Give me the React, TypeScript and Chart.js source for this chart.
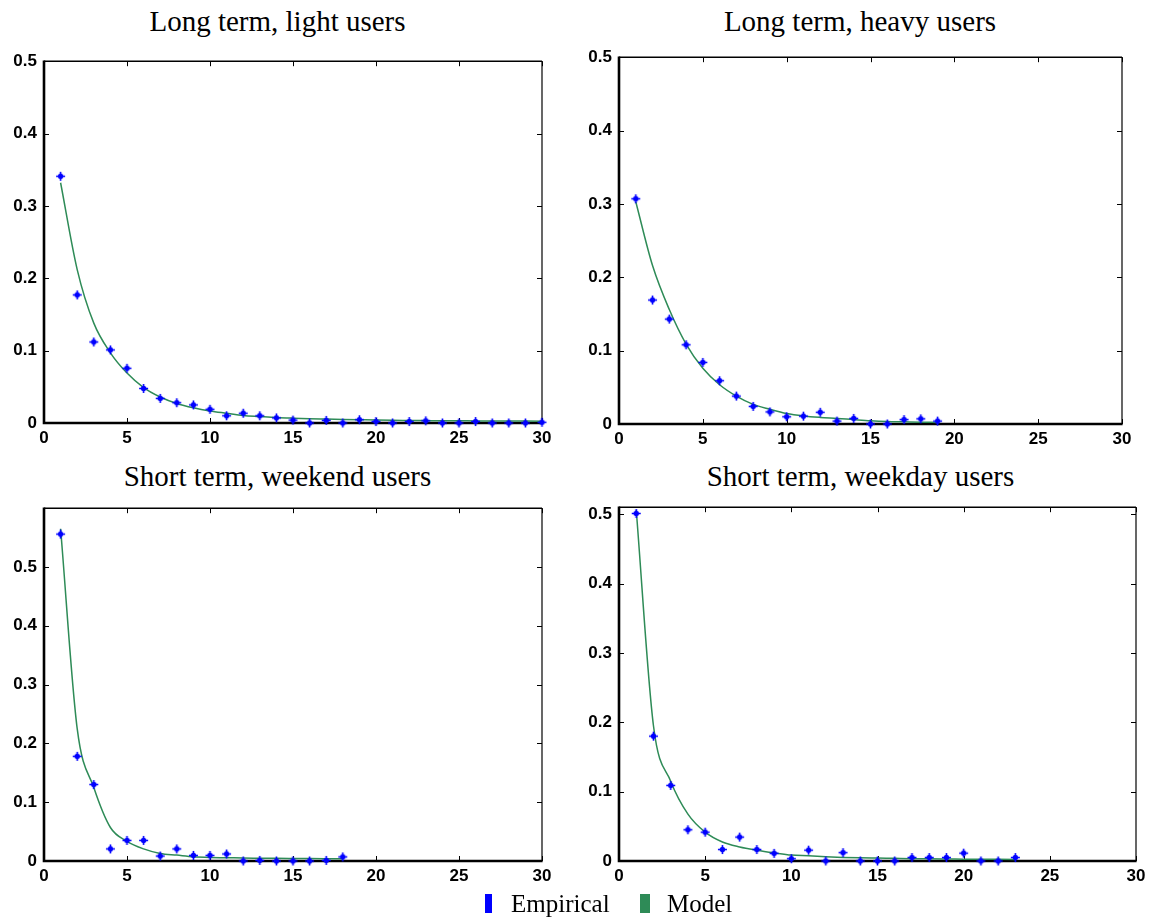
import React, { useEffect, useRef } from "react";
import { Chart, registerables } from "chart.js";

Chart.register(...registerables);

// Shared axis ticks
const xTickValues = [0, 5, 10, 15, 20, 25, 30];
const yTickValues = [0, 0.1, 0.2, 0.3, 0.4, 0.5];
const yTickLabels = ["0", "0.1", "0.2", "0.3", "0.4", "0.5"];

// Long term, light users (x = 1..30)
const lightEmpirical = [
  0.341, 0.177, 0.112, 0.101, 0.0756, 0.0477, 0.034, 0.028, 0.025, 0.019,
  0.01, 0.0135, 0.01, 0.007, 0.004, 0.0, 0.0036, 0.0, 0.0045, 0.002,
  0.0, 0.002, 0.003, 0.0, 0.0, 0.002, 0.0, 0.0, 0.0, 0.001,
];
const lightModel = [
  0.332, 0.212, 0.138, 0.097, 0.069, 0.049, 0.036, 0.027, 0.021, 0.0166,
  0.0135, 0.0105, 0.009, 0.0076, 0.0067, 0.006, 0.0055, 0.005, 0.0045, 0.004,
  0.0037, 0.0035, 0.0033, 0.0031, 0.003, 0.0029, 0.0028, 0.0027, 0.0026, 0.0025,
];

// Long term, heavy users (x = 1..19)
const heavyEmpirical = [
  0.307, 0.169, 0.143, 0.108, 0.084, 0.059, 0.038, 0.024, 0.0165, 0.0098,
  0.0107, 0.016, 0.004, 0.0076, 0.0, 0.0, 0.006, 0.007, 0.004,
];
const heavyModel = [
  0.303, 0.216, 0.156, 0.109, 0.076, 0.0535, 0.038, 0.0267, 0.02, 0.0143,
  0.011, 0.009, 0.0076, 0.006, 0.0045, 0.0035, 0.003, 0.0025, 0.0022,
];

// Short term, weekend users (x = 1..18)
const weekendEmpirical = [
  0.556, 0.178, 0.13, 0.0206, 0.035, 0.035, 0.0084, 0.0206, 0.0095, 0.0095,
  0.012, 0.0, 0.001, 0.0, 0.0, 0.0, 0.001, 0.007,
];
const weekendModel = [
  0.565, 0.225, 0.125, 0.057, 0.0334, 0.0206, 0.0128, 0.01, 0.0072, 0.006,
  0.0056, 0.005, 0.0048, 0.0045, 0.0043, 0.0041, 0.004, 0.004,
];

// Short term, weekday users (x = 1..23)
const weekdayEmpirical = [
  0.501, 0.18, 0.109, 0.045, 0.0416, 0.0165, 0.0345, 0.0165, 0.011, 0.0033,
  0.0156, 0.0, 0.012, 0.0, 0.0, 0.0, 0.005, 0.005, 0.005, 0.0113,
  0.0, 0.0, 0.005,
];
const weekdayModel = [
  0.506, 0.195, 0.115, 0.0676, 0.0416, 0.0274, 0.0203, 0.0156, 0.0118, 0.0085,
  0.0075, 0.0062, 0.0052, 0.0046, 0.0042, 0.0038, 0.0034, 0.0031, 0.0029, 0.0027,
  0.0025, 0.0024, 0.0023,
];

const EMPIRICAL_COLOR = "#0000ff";
const MODEL_COLOR = "#2e8b57";
const TICK_FONT = { family: "'Liberation Sans', Arial, sans-serif", size: 17, weight: "bold" as const };
const SERIF = "'Liberation Serif', 'Times New Roman', serif";

type Rect = { left: number; top: number; right: number; bottom: number };
type Panel = {
  title: string;
  empirical: number[];
  model: number[];
  yMax: number;
  plot: Rect;
  titleX: number;
  titleTop: number;
};

const panels: Panel[] = [
  { title: "Long term, light users", empirical: lightEmpirical, model: lightModel, yMax: 0.5,
    plot: { left: 44, top: 56, right: 542, bottom: 423 }, titleX: 277.5, titleTop: 7 },
  { title: "Long term, heavy users", empirical: heavyEmpirical, model: heavyModel, yMax: 0.5,
    plot: { left: 619, top: 52, right: 1122, bottom: 424 }, titleX: 860, titleTop: 7 },
  { title: "Short term, weekend users", empirical: weekendEmpirical, model: weekendModel, yMax: 0.6,
    plot: { left: 44, top: 503, right: 542, bottom: 861 }, titleX: 277.5, titleTop: 462 },
  { title: "Short term, weekday users", empirical: weekdayEmpirical, model: weekdayModel, yMax: 0.51,
    plot: { left: 619, top: 502, right: 1136, bottom: 861 }, titleX: 860.5, titleTop: 462 },
];

const Y_AXIS_W = 56;
const X_AXIS_H = 34;
const PAD_TOP = 12;
const PAD_RIGHT = 16;

// "+" marker with a filled dot in the middle
function makeMarker(): HTMLCanvasElement {
  const c = document.createElement("canvas");
  c.width = 11;
  c.height = 11;
  const g = c.getContext("2d")!;
  g.strokeStyle = EMPIRICAL_COLOR;
  g.fillStyle = EMPIRICAL_COLOR;
  g.lineWidth = 1.6;
  g.beginPath();
  g.moveTo(1, 5.5);
  g.lineTo(10, 5.5);
  g.moveTo(5.5, 1);
  g.lineTo(5.5, 10);
  g.stroke();
  g.beginPath();
  g.arc(5.5, 5.5, 2.7, 0, Math.PI * 2);
  g.fill();
  return c;
}

// Box frame with inward tick marks on all four sides
const framePlugin = {
  id: "matlabFrame",
  beforeDatasetsDraw(chart: any) {
    const { ctx, chartArea } = chart;
    const { left, top, right, bottom } = chartArea;
    const xs = chart.scales.x;
    const ys = chart.scales.y;
    ctx.save();
    ctx.strokeStyle = "#000";
    ctx.lineWidth = 1;
    const len = 5;
    ctx.beginPath();
    for (const v of xTickValues) {
      const px = Math.round(xs.getPixelForValue(v)) + 0.5;
      ctx.moveTo(px, bottom);
      ctx.lineTo(px, bottom - len);
      ctx.moveTo(px, top);
      ctx.lineTo(px, top + len);
    }
    for (const v of yTickValues) {
      const py = Math.round(ys.getPixelForValue(v)) + 0.5;
      ctx.moveTo(left, py);
      ctx.lineTo(left + len, py);
      ctx.moveTo(right, py);
      ctx.lineTo(right - len, py);
    }
    ctx.stroke();
    // top and right edges (thin)
    ctx.lineWidth = 1.5;
    ctx.beginPath();
    ctx.moveTo(left, top);
    ctx.lineTo(right, top);
    ctx.stroke();
    ctx.lineWidth = 1.2;
    ctx.beginPath();
    ctx.moveTo(right, top);
    ctx.lineTo(right, bottom);
    ctx.stroke();
    // bottom and left axes (heavy)
    ctx.lineWidth = 2.6;
    ctx.beginPath();
    ctx.moveTo(left, top - 0.7);
    ctx.lineTo(left, bottom);
    ctx.lineTo(right + 0.6, bottom);
    ctx.stroke();
    ctx.restore();
  },
};

function PanelChart({ panel, marker }: { panel: Panel; marker: HTMLCanvasElement | null }) {
  const ref = useRef<HTMLCanvasElement>(null);
  const { plot } = panel;
  const width = plot.right - plot.left + Y_AXIS_W + PAD_RIGHT;
  const height = plot.bottom - plot.top + PAD_TOP + X_AXIS_H;

  useEffect(() => {
    if (!ref.current) return;
    const pointStyle = marker ?? "crossRot";
    const chart = new Chart(ref.current, {
      type: "line",
      data: {
        datasets: [
          {
            label: "Empirical",
            data: panel.empirical.map((y, i) => ({ x: i + 1, y })),
            showLine: false,
            pointStyle: pointStyle as any,
            pointRadius: 5,
            pointBackgroundColor: EMPIRICAL_COLOR,
            pointBorderColor: EMPIRICAL_COLOR,
            order: 0,
            clip: false as any,
          },
          {
            label: "Model",
            data: panel.model.map((y, i) => ({ x: i + 1, y })),
            borderColor: MODEL_COLOR,
            borderWidth: 1.5,
            pointRadius: 0,
            cubicInterpolationMode: "monotone",
            fill: false,
            order: 1,
            clip: false as any,
          },
        ],
      },
      options: {
        responsive: false,
        animation: false,
        events: [],
        layout: { padding: { top: PAD_TOP, right: PAD_RIGHT, left: 0, bottom: 0 } },
        plugins: { legend: { display: false }, tooltip: { enabled: false }, title: { display: false } },
        scales: {
          x: {
            type: "linear",
            min: 0,
            max: 30,
            grid: { display: false, drawTicks: false },
            border: { display: false },
            afterBuildTicks: (s: any) => {
              s.ticks = xTickValues.map((value) => ({ value }));
            },
            afterFit: (s: any) => {
              s.height = X_AXIS_H;
            },
            ticks: {
              color: "#000",
              font: TICK_FONT,
              padding: 5,
              maxRotation: 0,
              autoSkip: false,
              callback: (v: any) => String(v),
            },
          },
          y: {
            type: "linear",
            min: 0,
            max: panel.yMax,
            grid: { display: false, drawTicks: false },
            border: { display: false },
            afterBuildTicks: (s: any) => {
              s.ticks = yTickValues.map((value) => ({ value }));
            },
            afterFit: (s: any) => {
              s.width = Y_AXIS_W;
            },
            ticks: {
              color: "#000",
              font: TICK_FONT,
              padding: 7,
              autoSkip: false,
              callback: (_v: any, i: number) => yTickLabels[i] ?? "",
            },
          },
        },
      },
      plugins: [framePlugin],
    } as any);
    return () => chart.destroy();
  }, [panel, marker]);

  return (
    <canvas
      ref={ref}
      width={width}
      height={height}
      style={{
        position: "absolute",
        left: plot.left - Y_AXIS_W,
        top: plot.top - PAD_TOP,
        width,
        height,
      }}
    />
  );
}

export default function App() {
  const markerRef = useRef<HTMLCanvasElement | null>(null);
  if (!markerRef.current && typeof document !== "undefined") {
    markerRef.current = makeMarker();
  }
  return (
    <div
      style={{
        position: "absolute",
        left: 0,
        top: 0,
        width: 1152,
        height: 924,
        background: "#fff",
        overflow: "hidden",
      }}
    >
      {panels.map((p) => (
        <React.Fragment key={p.title}>
          <div
            style={{
              position: "absolute",
              left: p.titleX - 300,
              top: p.titleTop,
              width: 600,
              textAlign: "center",
              fontFamily: SERIF,
              fontSize: 29,
              lineHeight: "29px",
              color: "#000",
              whiteSpace: "nowrap",
            }}
          >
            {p.title}
          </div>
          <PanelChart panel={p} marker={markerRef.current} />
        </React.Fragment>
      ))}
      {/* legend */}
      <div style={{ position: "absolute", left: 485, top: 894, width: 7, height: 19, background: EMPIRICAL_COLOR }} />
      <span
        style={{
          position: "absolute",
          left: 511,
          top: 891,
          fontFamily: SERIF,
          fontSize: 25,
          lineHeight: "25px",
          color: "#000",
          whiteSpace: "nowrap",
        }}
      >
        Empirical
      </span>
      <div style={{ position: "absolute", left: 640, top: 894, width: 10, height: 19, background: MODEL_COLOR }} />
      <span
        style={{
          position: "absolute",
          left: 667,
          top: 891,
          fontFamily: SERIF,
          fontSize: 25,
          lineHeight: "25px",
          color: "#000",
          whiteSpace: "nowrap",
        }}
      >
        Model
      </span>
    </div>
  );
}
